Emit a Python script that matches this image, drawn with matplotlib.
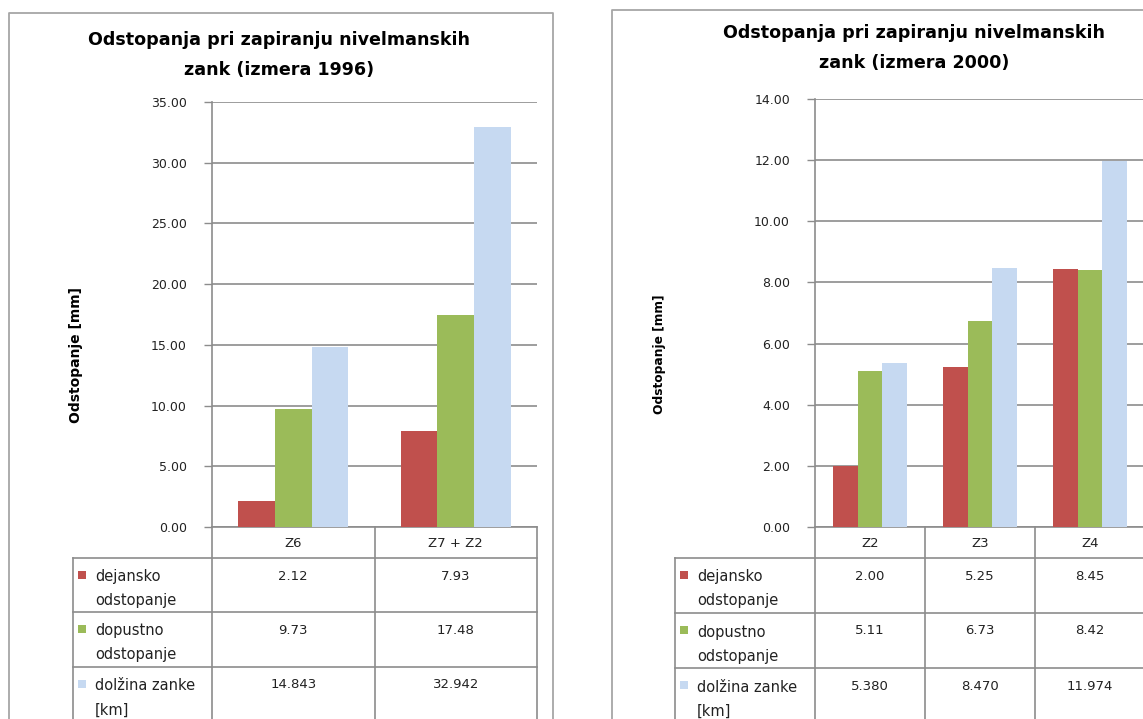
import numpy as np
import matplotlib
matplotlib.use('Agg')
import matplotlib.pyplot as plt
from matplotlib.patches import Rectangle

#series names (legend column of the data table)
series_labels=[['dejansko','odstopanje'],
               ['dopustno','odstopanje'],
               ['dolžina zanke','[km]']]
series_colors=['#C0504D','#9BBB59','#C6D9F1']

#survey 1996
cats_1996=['Z6','Z7 + Z2']
dejansko_1996=[2.12,7.93]
dopustno_1996=[9.73,17.48]
dolzina_1996=[14.843,32.942]
fmt_1996=['%.2f','%.2f','%.3f']

#survey 2000
cats_2000=['Z2','Z3','Z4']
dejansko_2000=[2.00,5.25,8.45]
dopustno_2000=[5.11,6.73,8.42]
dolzina_2000=[5.380,8.470,11.974]
fmt_2000=['%.2f','%.2f','%.3f']

W,H=1143,719
fig=plt.figure(figsize=(W/100,H/100),dpi=100)

#background axes in pixel coordinates for frames and table
ax_bg=fig.add_axes([0,0,1,1])
ax_bg.set_xlim(0,W)
ax_bg.set_ylim(H,0)
ax_bg.axis('off')

grid_color='#8c8c8c'
frame_color='#a6a6a6'
tick_font=dict(family='DejaVu Sans',size=9,color='#222222')
table_font=dict(family='DejaVu Sans',size=9.5,color='#222222')
legend_font=dict(family='DejaVu Sans',size=10.5,color='#222222')


def px_axes(x0,y0,x1,y1):
    return fig.add_axes([x0/W,1-y1/H,(x1-x0)/W,(y1-y0)/H])


def draw_chart(box,plot,title_xy,ylab_xy,ylab_size,cats,series,fmts,ymax,ystep,
               legend_x,row_edges,year):
    #chart frame
    bx0,by0,bx1=box
    ax_bg.plot([bx0,bx0,bx1,bx1],[H+5,by0,by0,H+5],color=frame_color,lw=1.3)

    x0,y0,x1,y1=plot
    ax=px_axes(x0,y0,x1,y1)
    n=len(cats)
    idx=np.arange(n)
    width=0.225
    for k,vals in enumerate(series):
        ax.bar(idx+(k-1)*width,vals,width=width,color=series_colors[k],zorder=3)
    ax.set_xlim(-0.5,n-0.5)
    ax.set_ylim(0,ymax)
    ax.set_yticks(np.arange(0,ymax+ystep/2,ystep))
    ax.yaxis.set_major_formatter(plt.FormatStrFormatter('%.2f'))
    ax.set_xticks([])
    for lab in ax.get_yticklabels():
        lab.set_fontfamily(tick_font['family'])
        lab.set_fontsize(tick_font['size'])
        lab.set_color(tick_font['color'])
    ax.tick_params(axis='y',length=6,width=1,color=grid_color,pad=12)
    ax.yaxis.grid(True,color=grid_color,lw=1.2)
    ax.set_axisbelow(True)
    for side in ['top','right','bottom']:
        ax.spines[side].set_visible(False)
    ax.spines['left'].set_color(grid_color)
    ax.spines['left'].set_linewidth(1.2)
    ax.patch.set_alpha(0)

    #title and axis label
    tx,ty=title_xy
    ax_bg.text(tx,ty,'Odstopanja pri zapiranju nivelmanskih',ha='center',va='center',
               fontsize=12.6,fontweight='bold',family='DejaVu Sans')
    ax_bg.text(tx,ty+30,'zank (izmera %s)'%year,ha='center',
               va='center',fontsize=12.6,fontweight='bold',family='DejaVu Sans')
    ax_bg.text(ylab_xy[0],ylab_xy[1],'Odstopanje [mm]',rotation=90,ha='center',
               va='center',fontsize=ylab_size,fontweight='bold',family='DejaVu Sans')

    #data table under the plot
    col_edges=[x0+(x1-x0)*i/n for i in range(n+1)]
    r_head,r1,r2,r3=row_edges
    ax_bg.plot([x0,col_edges[-1]],[y1,y1],color=grid_color,lw=1.2)
    ax_bg.plot([legend_x,col_edges[-1]],[r_head,r_head],color=grid_color,lw=1.2)
    for r in [r1,r2]:
        ax_bg.plot([legend_x,col_edges[-1]],[r,r],color=grid_color,lw=1.2)
    for xe in col_edges:
        ax_bg.plot([xe,xe],[y1,H+5],color=grid_color,lw=1.2)
    ax_bg.plot([legend_x,legend_x],[r_head,H+5],color=grid_color,lw=1.2)

    for i,c in enumerate(cats):
        xc=(col_edges[i]+col_edges[i+1])/2
        ax_bg.text(xc,(y1+r_head)/2+1,c,ha='center',va='center',**table_font)

    tops=[r_head,r1,r2]
    for k,vals in enumerate(series):
        top=tops[k]
        ax_bg.add_patch(Rectangle((legend_x+5,top+13),8,8,color=series_colors[k],lw=0))
        ax_bg.text(legend_x+22,top+19,series_labels[k][0],ha='left',va='center',**legend_font)
        ax_bg.text(legend_x+22,top+43,series_labels[k][1],ha='left',va='center',**legend_font)
        for i,v in enumerate(vals):
            xc=(col_edges[i]+col_edges[i+1])/2
            ax_bg.text(xc,top+18,fmts[k]%v,ha='center',va='center',**table_font)


draw_chart(box=(9,13,553),plot=(212,102,537,527),title_xy=(279,40),ylab_xy=(76,355),
           ylab_size=10,cats=cats_1996,series=[dejansko_1996,dopustno_1996,dolzina_1996],
           fmts=fmt_1996,ymax=35,ystep=5,legend_x=73,row_edges=(558,612,667,H),year='1996')

draw_chart(box=(612,10,W+20),plot=(815,99,1145,527),title_xy=(914,33),ylab_xy=(659,354),
           ylab_size=8.8,cats=cats_2000,series=[dejansko_2000,dopustno_2000,dolzina_2000],
           fmts=fmt_2000,ymax=14,ystep=2,legend_x=675,row_edges=(558,613,668,H),year='2000')

plt.savefig('out.png',dpi=100)
plt.close()
